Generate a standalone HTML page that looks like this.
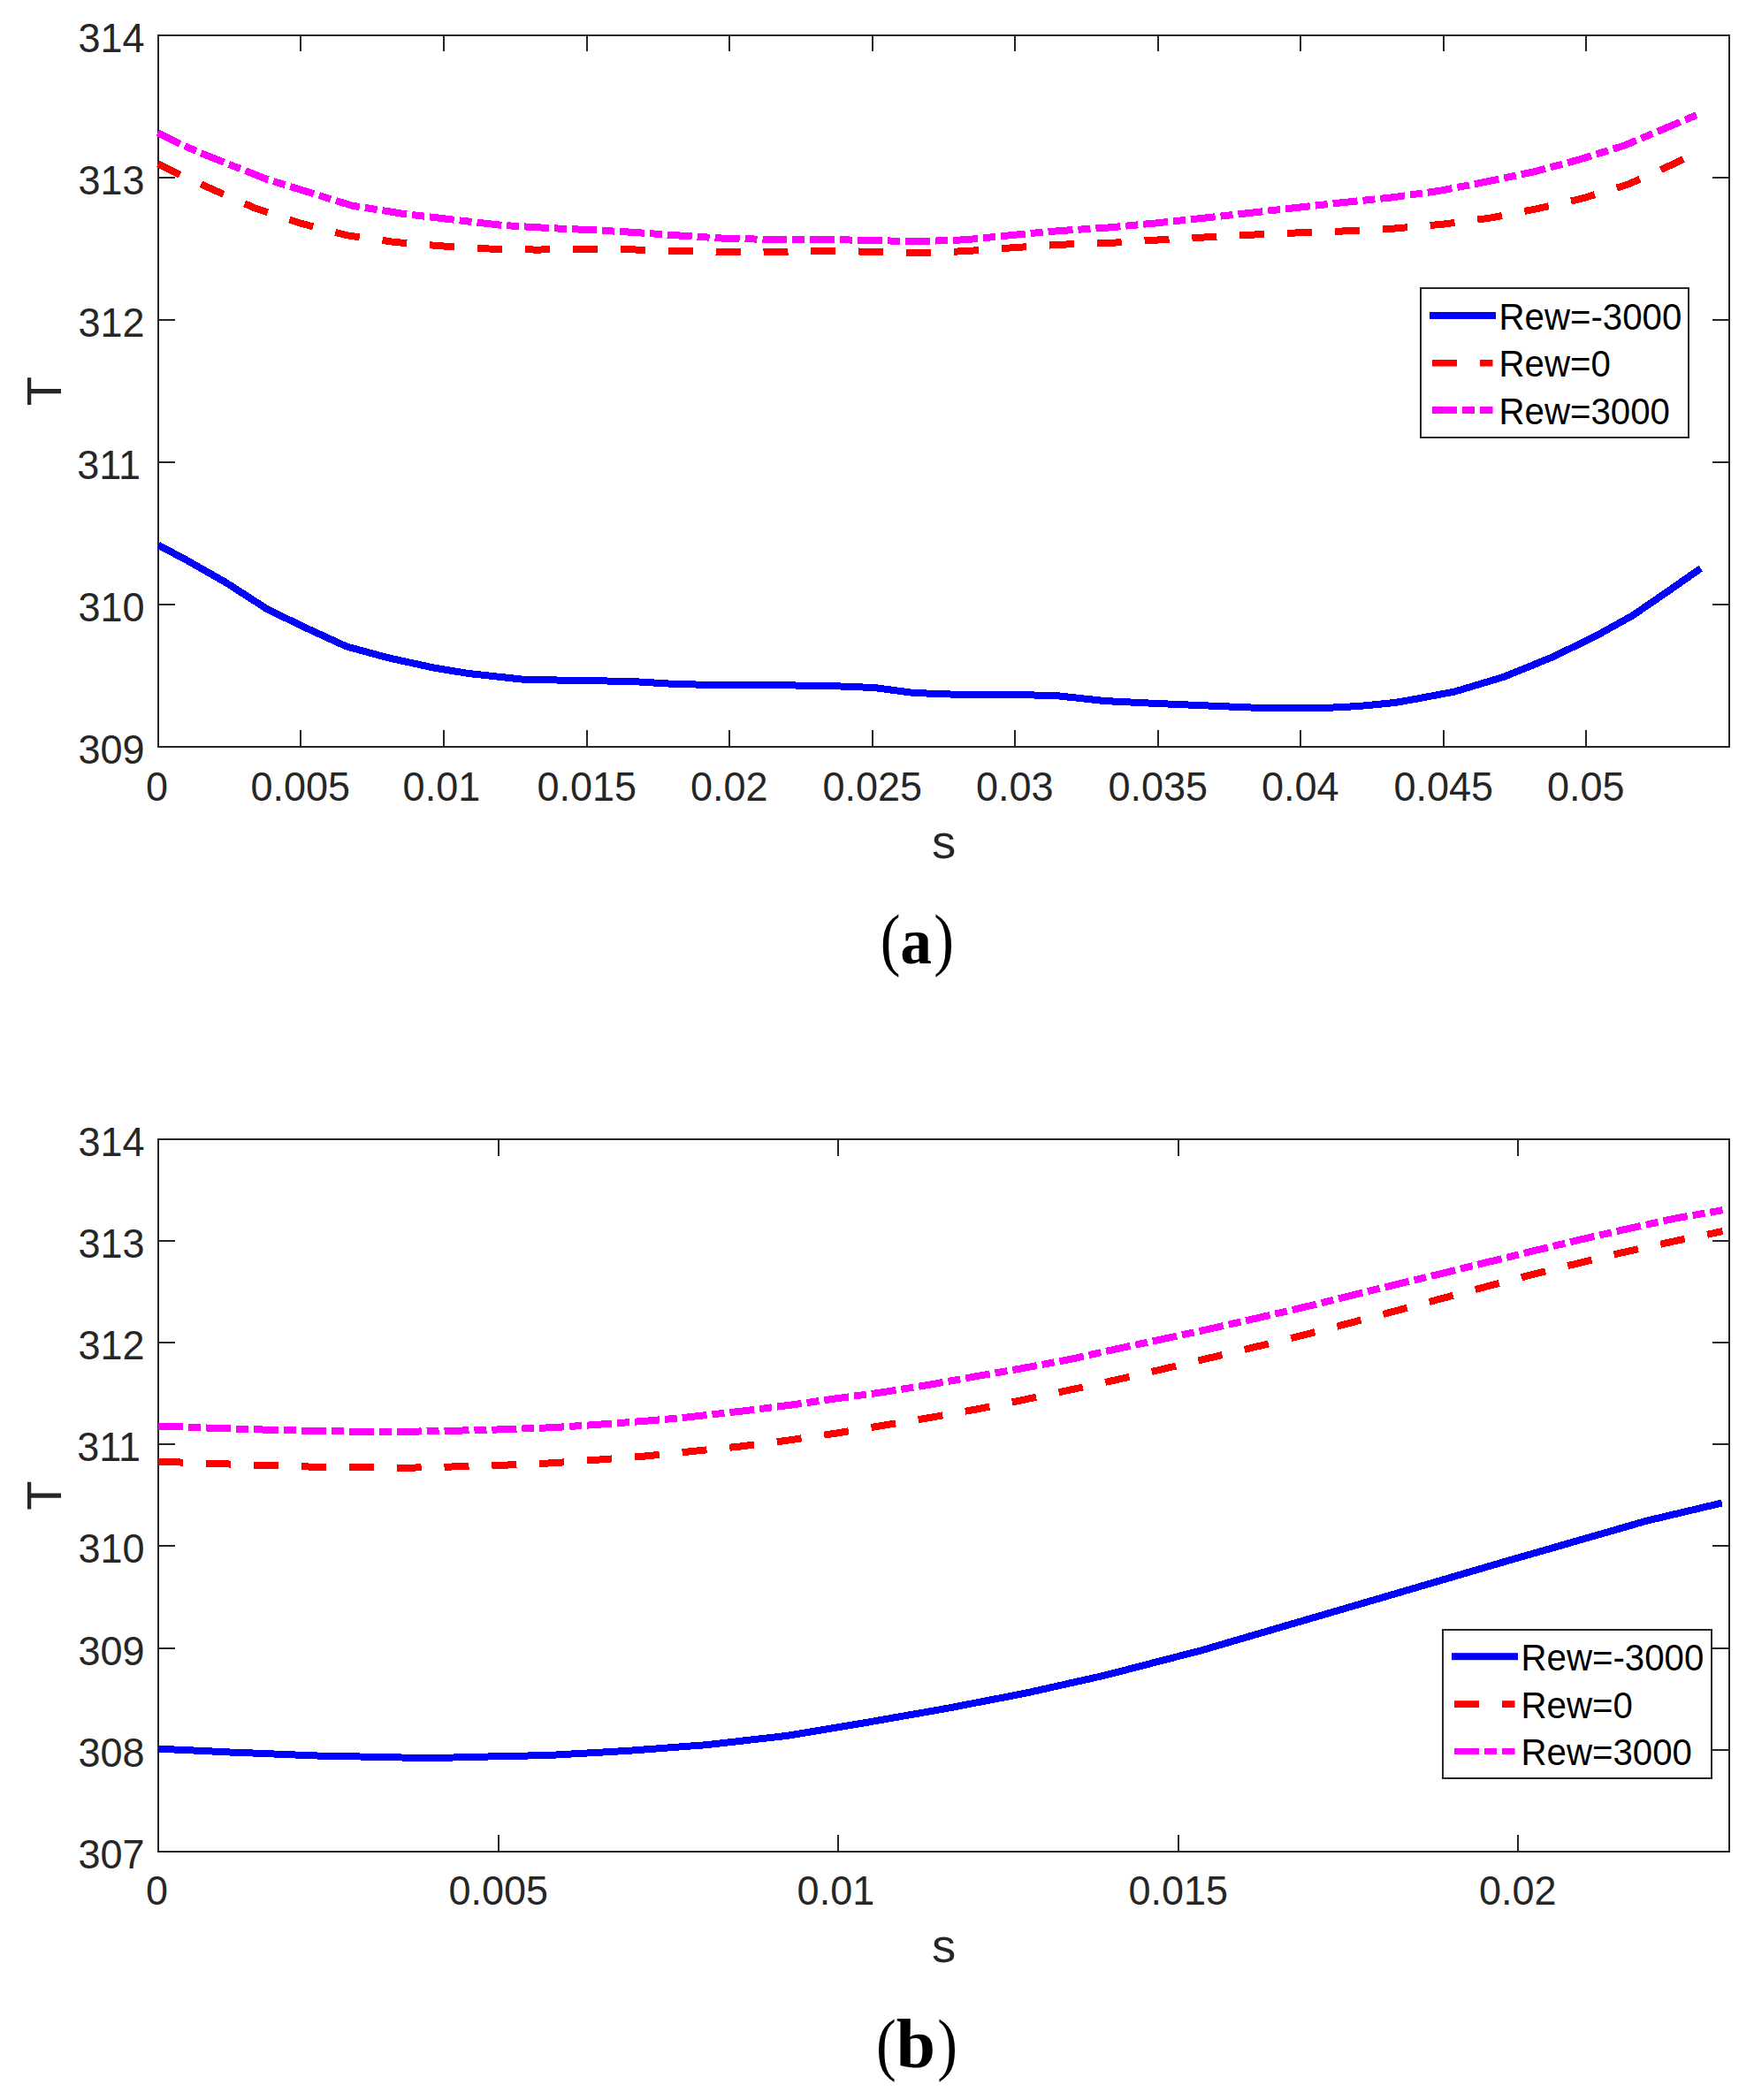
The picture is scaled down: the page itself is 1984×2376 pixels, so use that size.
<!DOCTYPE html>
<html lang="en">
<head>
<meta charset="utf-8">
<title>Temperature T versus arc length s for Rew = -3000, 0, 3000</title>
<style>
html,body{margin:0;padding:0;background:#fff;}
body{width:1984px;height:2376px;overflow:hidden;}
svg{display:block;}
text{white-space:pre;}
</style>
</head>
<body>
<svg width="1984" height="2376" viewBox="0 0 1984 2376">
<rect width="1984" height="2376" fill="#fff"/>

<g id="plot-a">
<rect x="179" y="40" width="1777" height="805" fill="none" stroke="#262626" stroke-width="2"/>
<path d="M340,845v-19M340,40v18M502,845v-19M502,40v18M664,845v-19M664,40v18M825,845v-19M825,40v18M987,845v-19M987,40v18M1148,845v-19M1148,40v18M1310,845v-19M1310,40v18M1471,845v-19M1471,40v18M1633,845v-19M1633,40v18M1794,845v-19M1794,40v18M179,201h19M1956,201h-19M179,362h19M1956,362h-19M179,523h19M1956,523h-19M179,684h19M1956,684h-19" fill="none" stroke="#262626" stroke-width="2"/>
<g font-family="'Liberation Sans', Arial, Helvetica, sans-serif" font-size="45" fill="#262626">
<g text-anchor="middle">
<text transform="translate(177.60,906.30) scale(1.0,1.03)">0</text>
<text transform="translate(339.70,906.30) scale(1.0,1.03)">0.005</text>
<text transform="translate(499.40,906.30) scale(1.0,1.03)">0.01</text>
<text transform="translate(663.70,906.30) scale(1.0,1.03)">0.015</text>
<text transform="translate(824.70,906.30) scale(1.0,1.03)">0.02</text>
<text transform="translate(986.70,906.30) scale(1.0,1.03)">0.025</text>
<text transform="translate(1147.70,906.30) scale(1.0,1.03)">0.03</text>
<text transform="translate(1309.70,906.30) scale(1.0,1.03)">0.035</text>
<text transform="translate(1470.70,906.30) scale(1.0,1.03)">0.04</text>
<text transform="translate(1632.70,906.30) scale(1.0,1.03)">0.045</text>
<text transform="translate(1793.70,906.30) scale(1.0,1.03)">0.05</text>
</g><g text-anchor="end">
<text transform="translate(163.50,59.10) scale(1.0,1.03)">314</text>
<text transform="translate(163.50,220.10) scale(1.0,1.03)">313</text>
<text transform="translate(163.50,381.10) scale(1.0,1.03)">312</text>
<text transform="translate(159.00,542.10) scale(1.0,1.03)">311</text>
<text transform="translate(163.50,703.10) scale(1.0,1.03)">310</text>
<text transform="translate(163.50,864.10) scale(1.0,1.03)">309</text>
</g></g>
<path d="M179.2,616.8 L211.0,633.7 L256.2,659.5 L301.4,688.7 L340.4,707.8 L391.7,731.4 L438.9,744.2 L490.2,755.5 L530.0,762.0 L593.6,768.9 L653.2,769.9 L714.7,771.0 L766.0,774.1 L817.4,775.1 L890.0,775.4 L935.2,775.9 L988.5,778.0 L1033.7,784.0 L1082.9,785.8 L1146.6,786.1 L1192.8,786.9 L1250.0,793.1 L1309.5,796.0 L1373.2,798.8 L1424.5,800.9 L1500.4,800.9 L1537.4,799.0 L1578.4,794.9 L1600.0,791.1 L1645.2,782.6 L1700.6,766.0 L1756.0,743.5 L1805.3,719.5 L1846.3,696.7 L1887.4,668.5 L1923.8,643.1" fill="none" stroke="#0000ff" stroke-width="8" stroke-linejoin="round" shape-rendering="crispEdges"/>
<path d="M178.7,185.2 L203.4,197.6 L239.8,214.0 L289.0,235.7 L340.5,252.8 L392.0,266.2 L446.0,273.9 L500.0,278.4 L553.0,281.5 L607.6,282.6 L659.0,281.6 L715.6,282.4 L768.3,284.1 L822.5,285.3 L876.7,285.0 L930.8,283.9 L985.0,284.7 L1039.0,286.4 L1093.0,284.1 L1146.0,280.2 L1200.0,276.7 L1254.0,275.0 L1308.0,271.6 L1362.4,268.5 L1416.6,265.6 L1470.0,263.3 L1524.0,261.3 L1577.6,258.5 L1631.0,253.8 L1684.5,246.8 L1737.7,236.4 L1790.8,224.3 L1841.6,208.6 L1891.0,186.4 L1904.5,179.6 L1923.8,169.5" fill="none" stroke="#ff0000" stroke-width="8" stroke-linejoin="round" stroke-dasharray="27.97 25.97" shape-rendering="crispEdges"/>
<path d="M178.5,150.4 L203.4,162.8 L227.1,173.1 L301.1,202.6 L398.0,232.6 L455.0,241.7 L512.0,248.5 L569.0,255.0 L626.0,258.3 L670.0,260.2 L715.6,262.8 L768.3,266.5 L822.5,269.9 L876.7,271.0 L930.8,271.0 L983.6,271.9 L1037.7,273.3 L1091.9,271.3 L1146.0,265.9 L1170.0,263.6 L1200.0,261.0 L1252.7,257.6 L1306.8,252.5 L1361.0,246.8 L1415.0,240.8 L1468.0,234.8 L1522.0,228.8 L1574.8,223.4 L1629.0,215.7 L1680.9,205.7 L1734.0,194.6 L1787.2,180.3 L1838.0,164.4 L1886.3,144.0 L1923.8,128.2" fill="none" stroke="#ff00ff" stroke-width="8" stroke-linejoin="round" stroke-dasharray="27.97 6 13.97 6" shape-rendering="crispEdges"/>
<rect x="1607" y="326" width="303" height="169" fill="#fff" stroke="#262626" stroke-width="2"/>
<rect x="1617" y="353" width="75" height="8" fill="#0000ff"/>
<rect x="1620" y="407" width="28" height="7.5" fill="#ff0000"/>
<rect x="1674" y="407" width="14.5" height="7.5" fill="#ff0000"/>
<rect x="1620" y="460" width="28" height="8" fill="#ff00ff"/>
<rect x="1654" y="460" width="14" height="8" fill="#ff00ff"/>
<rect x="1674" y="460" width="14.5" height="8" fill="#ff00ff"/>
<g font-family="'Liberation Sans', Arial, Helvetica, sans-serif" font-size="40.5" fill="#000">
<text transform="translate(1695.50,372.90) scale(0.993,1.055)">Rew=-3000</text>
<text transform="translate(1695.50,426.45) scale(0.993,1.055)">Rew=0</text>
<text transform="translate(1695.50,480.00) scale(0.993,1.055)">Rew=3000</text>
</g>
<text font-family="'Liberation Sans', Arial, Helvetica, sans-serif" font-size="54.5" fill="#262626" text-anchor="middle" x="1067.5" y="971.0">s</text>
<text font-family="'Liberation Sans', Arial, Helvetica, sans-serif" font-size="54.5" fill="#262626" text-anchor="middle" transform="translate(69,442.5) rotate(-90) scale(1,1.03)">T</text>
</g>
<g id="plot-b">
<rect x="179" y="1289" width="1777" height="806" fill="none" stroke="#262626" stroke-width="2"/>
<path d="M564,2095v-19M564,1289v19M948,2095v-19M948,1289v19M1333,2095v-19M1333,1289v19M1717,2095v-19M1717,1289v19M179,1404h19M1956,1404h-19M179,1519h19M1956,1519h-19M179,1634h19M1956,1634h-19M179,1749h19M1956,1749h-19M179,1865h19M1956,1865h-19M179,1980h19M1956,1980h-19" fill="none" stroke="#262626" stroke-width="2"/>
<g font-family="'Liberation Sans', Arial, Helvetica, sans-serif" font-size="45" fill="#262626">
<g text-anchor="middle">
<text transform="translate(177.60,2155.30) scale(1.0,1.03)">0</text>
<text transform="translate(563.70,2155.30) scale(1.0,1.03)">0.005</text>
<text transform="translate(945.40,2155.30) scale(1.0,1.03)">0.01</text>
<text transform="translate(1332.70,2155.30) scale(1.0,1.03)">0.015</text>
<text transform="translate(1716.70,2155.30) scale(1.0,1.03)">0.02</text>
</g><g text-anchor="end">
<text transform="translate(163.50,1308.00) scale(1.0,1.03)">314</text>
<text transform="translate(163.50,1423.00) scale(1.0,1.03)">313</text>
<text transform="translate(163.50,1538.00) scale(1.0,1.03)">312</text>
<text transform="translate(159.00,1653.00) scale(1.0,1.03)">311</text>
<text transform="translate(163.50,1768.00) scale(1.0,1.03)">310</text>
<text transform="translate(163.50,1884.00) scale(1.0,1.03)">309</text>
<text transform="translate(163.50,1999.00) scale(1.0,1.03)">308</text>
<text transform="translate(163.50,2114.00) scale(1.0,1.03)">307</text>
</g></g>
<path d="M179.0,1978.7 L196.7,1979.5 L219.3,1980.5 L239.8,1981.5 L260.3,1982.5 L286.0,1983.5 L309.6,1984.5 L334.2,1985.5 L358.8,1986.5 L407.1,1987.5 L454.3,1988.5 L483.0,1988.9 L512.8,1988.5 L530.0,1988.0 L620.0,1986.0 L710.0,1980.9 L800.0,1974.1 L890.0,1963.9 L980.0,1948.9 L1070.0,1933.1 L1160.0,1915.7 L1250.0,1895.5 L1360.0,1867.0 L1565.3,1807.0 L1700.0,1767.5 L1863.0,1720.6 L1947.8,1700.5" fill="none" stroke="#0000ff" stroke-width="8" stroke-linejoin="round" shape-rendering="crispEdges"/>
<path d="M179.0,1653.6 L245.3,1656.0 L300.0,1658.0 L354.7,1659.7 L409.5,1660.2 L462.5,1660.7 L515.5,1659.4 L570.3,1657.7 L625.0,1655.3 L678.0,1651.5 L731.0,1647.4 L785.4,1641.8 L838.4,1636.4 L892.1,1629.5 L945.2,1621.7 L998.5,1612.8 L1052.2,1603.9 L1105.3,1594.3 L1158.3,1583.7 L1211.3,1572.4 L1264.4,1560.8 L1316.4,1548.8 L1370.0,1536.0 L1420.8,1523.8 L1473.3,1510.8 L1525.8,1497.2 L1577.6,1483.5 L1629.7,1469.5 L1681.9,1455.5 L1734.0,1441.9 L1786.5,1428.9 L1839.0,1416.3 L1891.5,1404.8 L1939.5,1395.0 L1948.6,1393.0" fill="none" stroke="#ff0000" stroke-width="8" stroke-linejoin="round" stroke-dasharray="27.97 25.97" shape-rendering="crispEdges"/>
<path d="M179.0,1613.5 L245.3,1615.9 L300.0,1617.6 L354.7,1619.0 L409.5,1619.7 L464.2,1619.7 L515.5,1618.7 L570.3,1617.3 L625.0,1615.2 L676.3,1611.8 L731.0,1607.7 L770.0,1604.3 L838.4,1596.7 L893.2,1589.8 L946.2,1582.3 L999.2,1575.1 L1052.2,1566.6 L1105.3,1557.0 L1158.3,1547.8 L1211.3,1537.8 L1264.4,1525.9 L1317.4,1514.6 L1370.0,1503.2 L1422.5,1491.2 L1475.0,1479.0 L1527.5,1466.0 L1580.0,1453.1 L1632.5,1440.5 L1685.0,1427.5 L1737.5,1414.6 L1790.0,1402.0 L1842.5,1390.0 L1895.0,1378.5 L1948.6,1369.2" fill="none" stroke="#ff00ff" stroke-width="8" stroke-linejoin="round" stroke-dasharray="27.97 6 13.97 6" shape-rendering="crispEdges"/>
<rect x="1632" y="1844" width="304" height="168" fill="#fff" stroke="#262626" stroke-width="2"/>
<rect x="1642" y="1870.2" width="75" height="8" fill="#0000ff"/>
<rect x="1645" y="1924.2" width="28" height="7.8" fill="#ff0000"/>
<rect x="1699" y="1924.2" width="14.5" height="7.8" fill="#ff0000"/>
<rect x="1645" y="1978.0" width="28" height="7" fill="#ff00ff"/>
<rect x="1679" y="1978.0" width="14" height="7" fill="#ff00ff"/>
<rect x="1699" y="1978.0" width="14.5" height="7" fill="#ff00ff"/>
<g font-family="'Liberation Sans', Arial, Helvetica, sans-serif" font-size="40.5" fill="#000">
<text transform="translate(1720.50,1890.10) scale(0.993,1.055)">Rew=-3000</text>
<text transform="translate(1720.50,1943.65) scale(0.993,1.055)">Rew=0</text>
<text transform="translate(1720.50,1997.20) scale(0.993,1.055)">Rew=3000</text>
</g>
<text font-family="'Liberation Sans', Arial, Helvetica, sans-serif" font-size="54.5" fill="#262626" text-anchor="middle" x="1067.5" y="2219.6">s</text>
<text font-family="'Liberation Sans', Arial, Helvetica, sans-serif" font-size="54.5" fill="#262626" text-anchor="middle" transform="translate(69,1692) rotate(-90) scale(1,1.03)">T</text>
</g>
<g id="captions" font-family="'Liberation Serif', 'Times New Roman', serif" fill="#000">
<text transform="translate(995.8,1089.36) scale(0.878,1)" font-size="77.9">(</text>
<text transform="translate(1018.3,1090) scale(0.953,1)" font-size="75" font-weight="bold">a</text>
<text transform="translate(1056.14,1089.36) scale(0.878,1)" font-size="77.9">)</text>
<text transform="translate(990.9,2338.56) scale(0.878,1)" font-size="77.9">(</text>
<text transform="translate(1013.7,2338.95) scale(1.022,1)" font-size="77.9" font-weight="bold">b</text>
<text transform="translate(1060.34,2338.56) scale(0.878,1)" font-size="77.9">)</text>
</g>
</svg>
</body>
</html>
